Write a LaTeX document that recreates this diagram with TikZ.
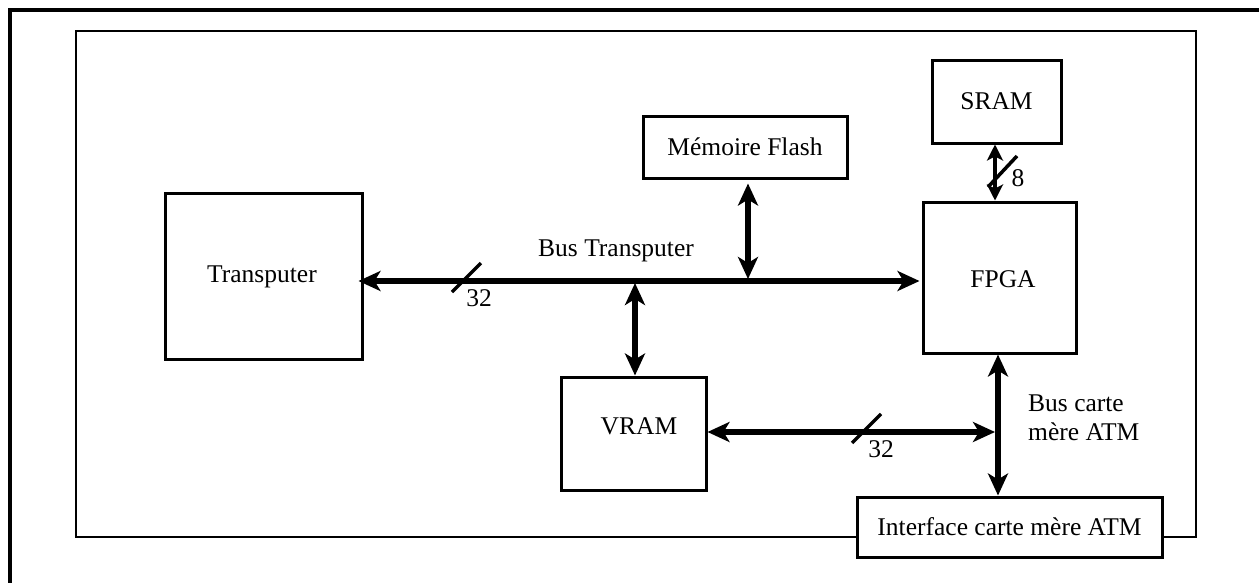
\documentclass[tikz,border=0pt]{standalone}
\usepackage{fontspec}
\setmainfont{Liberation Serif}
\usetikzlibrary{arrows.meta,calc}
\begin{document}
\begin{tikzpicture}[x=1pt,y=-1pt,
  box/.style={draw,line width=3pt,fill=white,inner sep=0pt,font=\fontsize{25.5}{29}\selectfont},
  lbl/.style={inner sep=0pt,font=\fontsize{25.5}{29}\selectfont},
  bus/.style={line width=6pt,{Stealth[length=22pt,width=20pt,inset=6pt]}-{Stealth[length=22pt,width=20pt,inset=6pt]}},
  thinbus/.style={line width=3.5pt,{Stealth[length=16pt,width=16pt,inset=4pt]}-{Stealth[length=16pt,width=16pt,inset=4pt]}},
  slash/.style={line width=3.5pt}]
\useasboundingbox (0,0) rectangle (1259,582);
\clip (0,0) rectangle (1259,582);
% outer frame
\draw[line width=3.5pt] (10,10) rectangle (1320,640);
% inner frame
\draw[line width=2.5pt] (76,31) rectangle (1196,537);
% boxes
\node[box,minimum width=197pt,minimum height=166pt] (T) at (263.5,276) {};
\node[lbl] (Tl) at (262,277) {Transputer};
\node[box,minimum width=204pt,minimum height=62pt] (F) at (745,147) {Mémoire Flash};
\node[box,minimum width=129pt,minimum height=83pt] (S) at (996.5,101.5) {SRAM};
\node[box,minimum width=153pt,minimum height=151pt] (G) at (999.5,277.5) {};
\node[lbl] (Gl) at (1003,279) {FPGA};
\node[box,minimum width=145pt,minimum height=113pt] (V) at (633.5,433.5) {};
\node[lbl] (Vl) at (639,426) {VRAM};
\node[box,minimum width=305pt,minimum height=60pt] (I) at (1009.5,527) {Interface carte mère ATM};
% junction coordinates
\coordinate (jV) at (635,281);
\coordinate (jF) at (748,281);
\coordinate (jA) at (998,432);
% connectors
\draw[bus] ($(T.east |- jV)+(-5,0)$) -- ($(G.west |- jV)+(-2,0)$);
\draw[bus,shorten >=-1pt] ($(F.south -| jF)+(0,4)$) -- ($(jF)+(0,-3)$);
\draw[bus] ($(jV)+(0,2)$) -- (V.north -| jV);
\draw[bus] (V.east |- jA) -- ($(jA)+(-3,0)$);
\draw[bus] (G.south -| jA) -- (I.north -| jA);
\draw[thinbus] (S.south -| 995,0) -- (G.north -| 995,0);
% bus width marks
\coordinate (s1) at (466.5,277.5);
\coordinate (s2) at (866.5,428.5);
\coordinate (s3) at (1002.5,171.5);
\draw[slash] ($(s1)+(-14.5,14.5)$) -- ($(s1)+(14.5,-14.5)$);
\draw[slash] ($(s2)+(-14.5,14.5)$) -- ($(s2)+(14.5,-14.5)$);
\draw[slash] ($(s3)+(-14.5,15.5)$) -- ($(s3)+(14.5,-15.5)$);
\node[lbl] (n1) at (479,298) {32};
\node[lbl] (n2) at (881,449) {32};
\node[lbl] (n3) at (1018,178) {8};
% bus labels
\node[lbl] (bt) at (616,251) {Bus Transputer};
\node[lbl,anchor=west,align=left] (bc) at (1028,418) {Bus carte\\mère ATM};
\end{tikzpicture}
\end{document}
